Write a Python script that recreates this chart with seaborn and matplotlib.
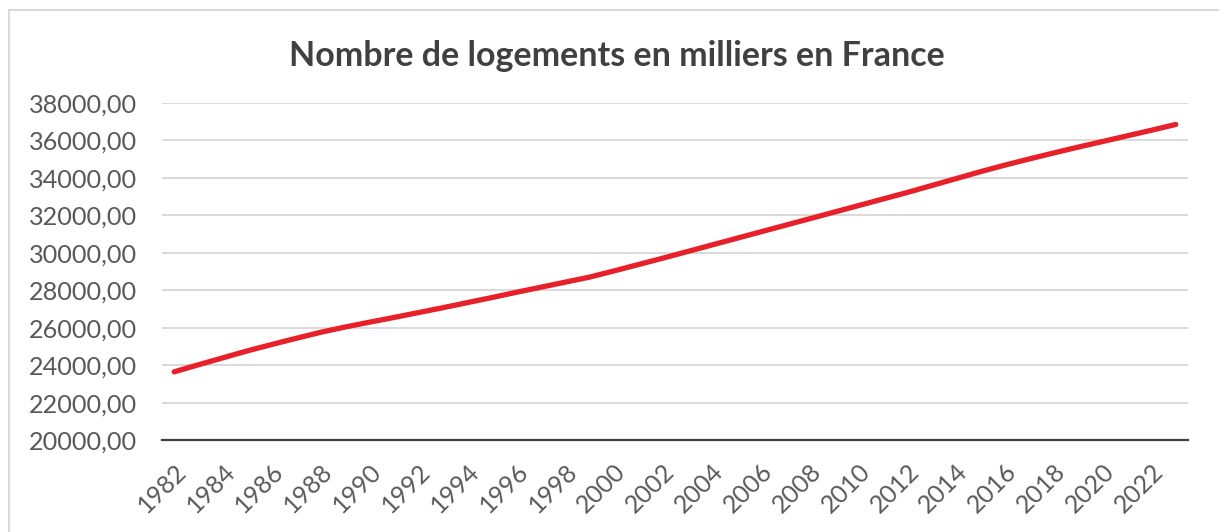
import matplotlib
matplotlib.use('Agg')
import matplotlib.pyplot as plt
import matplotlib.ticker as mticker
from matplotlib.patches import Rectangle
import seaborn as sns
import pandas as pd

# --- data ---
years = list(range(1982, 2024))
logements = [
    23650, 24030, 24400, 24770, 25110, 25440, 25760, 26040, 26300, 26550,
    26810, 27070, 27340, 27610, 27890, 28160, 28430, 28700, 29030, 29370,
    29710, 30060, 30410, 30760, 31110, 31460, 31810, 32160, 32510, 32860,
    33210, 33580, 33950, 34320, 34670, 35000, 35320, 35630, 35930, 36230,
    36530, 36840,
]
y_ticks = [20000, 22000, 24000, 26000, 28000, 30000, 32000, 34000, 36000, 38000]
x_ticks = years[::2]
title = "Nombre de logements en milliers en France"

df = pd.DataFrame({"annee": years, "logements": logements})

# --- style ---
sns.set_style("white")
plt.rcParams['font.family'] = ['Lato', 'DejaVu Sans']
txt_color = '#595959'

fig = plt.figure(figsize=(12.19, 5.32), dpi=100)
ax = fig.add_axes([162 / 1219, 1 - 440.3 / 532, (1188 - 162) / 1219, (440.3 - 102.7) / 532])

sns.lineplot(data=df, x="annee", y="logements", ax=ax, color='#E8202A',
             linewidth=3.8, solid_capstyle='round', zorder=3)

ax.set_xlim(years[0] - 0.5, years[-1] + 0.5)
ax.set_ylim(y_ticks[0], y_ticks[-1])
ax.set_yticks(y_ticks)
ax.yaxis.set_major_formatter(mticker.FuncFormatter(lambda v, p: f"{v:.2f}".replace('.', ',')))
ax.set_xticks(x_ticks)
ax.set_xticklabels([str(y) for y in x_ticks], rotation=45, ha='right', va='top',
                   rotation_mode='anchor')
# nudge the rotated year labels slightly right, as in the reference
for lab in ax.get_xticklabels():
    lab.set_transform(lab.get_transform() + matplotlib.transforms.ScaledTranslation(
        2 / 100, 0, fig.dpi_scale_trans))

ax.tick_params(axis='y', length=0, pad=18, labelsize=18.2, labelcolor=txt_color)
ax.tick_params(axis='x', length=0, pad=14, labelsize=18, labelcolor=txt_color)
ax.set_xlabel('')
ax.set_ylabel('')

ax.grid(axis='y', color='#D9D9D9', linewidth=1.4)
ax.grid(axis='x', visible=False)
for side in ['left', 'right', 'top']:
    ax.spines[side].set_visible(False)
ax.spines['bottom'].set_color('#404040')
ax.spines['bottom'].set_linewidth(1.6)
ax.spines['bottom'].set_zorder(4)

fig.text(617 / 1219, 1 - 56 / 532, title, ha='center', va='center',
         fontsize=24.5, fontweight='bold', color='#404040')

# chart frame (light grey, cut by the image edges)
fig.patches.append(Rectangle((9 / 1219, -0.1), 1.2, 1.1 - 10.5 / 532,
                             transform=fig.transFigure, fill=False,
                             edgecolor='#D9D9D9', linewidth=1.5))

fig.savefig('out.png', dpi=100)
